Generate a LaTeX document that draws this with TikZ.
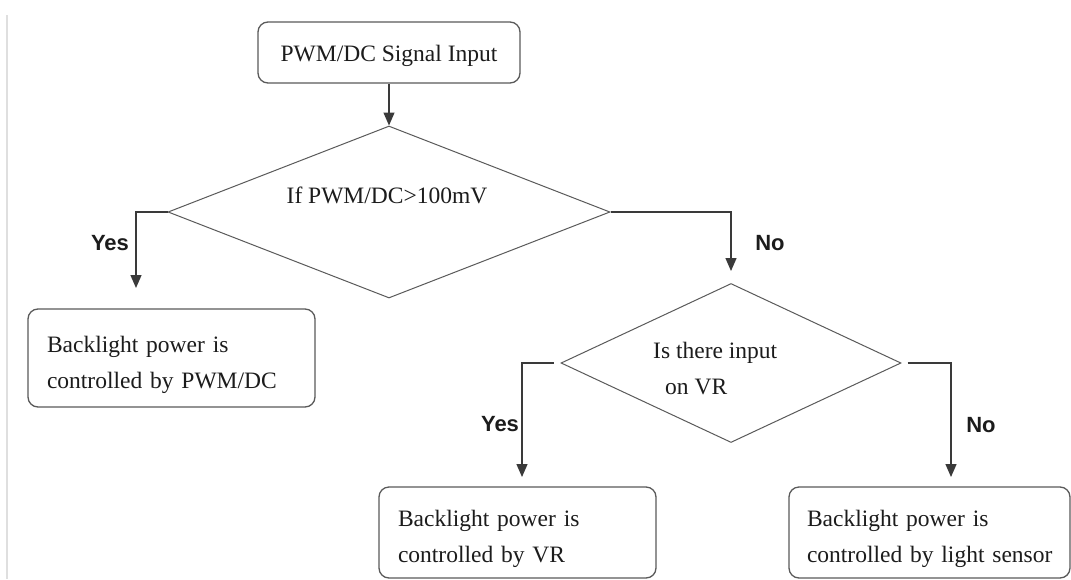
\documentclass[tikz,border=0pt]{standalone}
\usepackage{fontspec}
\setmainfont{Liberation Serif}
\newfontfamily\yesnofont{Liberation Sans}
\usetikzlibrary{shapes.geometric,arrows.meta}
\definecolor{linegray}{HTML}{3A3A3A}
\definecolor{edgegray}{HTML}{5A5A5A}
\definecolor{inkblack}{HTML}{1C1C1C}
\tikzset{lift/.style={execute at begin node={\rule{0pt}{#1}}}}

\begin{document}
\begin{tikzpicture}[x=1pt,y=-1pt]
\tikzstyle{every node}+=[inner sep=0pt, text=inkblack]
\tikzstyle{flowtext}=[font=\fontsize{23.5pt}{36pt}\selectfont]
\tikzstyle{box}=[flowtext, draw=edgegray, line width=1.3pt, rounded corners=10pt, align=left, inner xsep=19pt]
\tikzstyle{test}=[diamond, draw=edgegray, line width=1pt]
\tikzstyle{answer}=[font=\yesnofont\bfseries\fontsize{22pt}{26pt}\selectfont]
\tikzstyle{arr}=[draw=linegray, line width=1.3pt, -{Triangle[length=13pt,width=11pt]}]

\useasboundingbox (0,0) rectangle (1071,579);
\fill[white] (0,0) rectangle (1071,579);
\draw[gray!25, line width=1.5pt] (7,15) -- (7,579);

\node[box, lift=24pt, minimum width=262pt, minimum height=61pt] (start) at (389,52.5) {PWM/DC Signal Input};

\node[test, minimum width=442pt, minimum height=172pt] (d1) at (389,212) {};
\node[flowtext, anchor=base] (d1text) at (387,203) {If PWM/DC>100mV};

\node[box, lift=29.5pt, text width=249pt, minimum height=98pt] (pwmbox) at (171.5,358) {Backlight power is\\controlled by PWM/DC};

\node[test, minimum width=340pt, minimum height=159pt] (d2) at (731,363) {};
\node[flowtext, anchor=north west, align=left] (d2text) at (653,342) {Is there input\\\hspace*{12pt}on VR};

\node[box, lift=30pt, text width=239pt, minimum height=91pt] (vrbox) at (517.5,532.5) {Backlight power is\\controlled by VR};
\node[box, lift=30pt, inner xsep=18pt, text width=245pt, minimum height=91pt] (sensorbox) at (929.5,532.5) {Backlight power is\\\mbox{controlled by light sensor}};

% free ends of the branches
\coordinate (yes1) at (136,288);
\coordinate (no1) at (731,271);
\coordinate (yes2) at (522,477);
\coordinate (no2) at (951,477);

\draw[arr] (start.south) -- (d1.north);
\draw[arr] (d1.west) -| (yes1);
\draw[arr] (d1.east) -| (no1);
\draw[arr] ([xshift=-7pt]d2.west) -| (yes2);
\draw[arr] ([xshift=6pt]d2.east) -| (no2);

\node[answer] (yes1label) at (110,243) {Yes};
\node[answer] (no1label) at (770,243) {No};
\node[answer] (yes2label) at (500,424) {Yes};
\node[answer] (no2label) at (981,425) {No};
\end{tikzpicture}
\end{document}
